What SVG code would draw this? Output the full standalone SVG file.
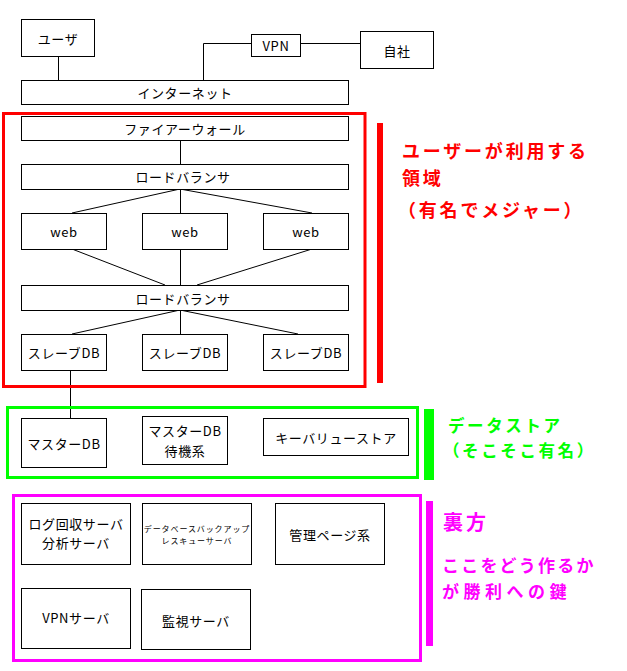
<svg xmlns="http://www.w3.org/2000/svg" width="627" height="671" viewBox="0 0 627 671">
<style>
.n{fill:#fff;stroke:#000;stroke-width:1}
.t{font-family:"Noto Sans CJK JP","Liberation Sans",sans-serif;font-size:13px;fill:#000;text-anchor:middle;dominant-baseline:central;letter-spacing:0.6px}
.s{font-size:8px;letter-spacing:0.9px}
.c line,.c polyline{stroke:#000;stroke-width:1;fill:none}
.lb{font-family:"Noto Sans CJK JP",sans-serif;font-weight:bold}
</style>
<rect width="627" height="671" fill="#fff"/>
<g class="c" id="connectors">
<line x1="58.5" y1="56" x2="58.5" y2="80"/>
<polyline points="203.5,80 203.5,43.5 251,43.5"/>
<line x1="300" y1="43.5" x2="360" y2="43.5"/>
<line x1="180.5" y1="140" x2="180.5" y2="164"/>
<line x1="180" y1="189" x2="72" y2="213"/>
<line x1="180.5" y1="189" x2="180.5" y2="213"/>
<line x1="180" y1="189" x2="312" y2="213"/>
<line x1="72" y1="249" x2="165" y2="285"/>
<line x1="180.5" y1="249" x2="180.5" y2="285"/>
<line x1="312" y1="249" x2="197" y2="285"/>
<line x1="180" y1="310" x2="72" y2="334"/>
<line x1="180.5" y1="310" x2="180.5" y2="334"/>
<line x1="180" y1="310" x2="298" y2="334"/>
<line x1="70.5" y1="370" x2="70.5" y2="418"/>
</g>
<g id="zone-user">
<rect x="3.5" y="113.5" width="361.5" height="273" fill="none" stroke="#f00" stroke-width="3"/>
<rect x="377" y="123" width="6" height="260" fill="#f00"/>
<text class="lb" x="402" y="158" font-size="18" letter-spacing="2.8" fill="#f00">ユーザーが利用する</text>
<text class="lb" x="402" y="184.5" font-size="18" letter-spacing="2.8" fill="#f00">領域</text>
<text class="lb" x="398" y="217" font-size="18" letter-spacing="2.8" fill="#f00">（有名でメジャー）</text>
</g>
<g id="zone-data">
<rect x="7.5" y="407.5" width="410" height="70" fill="none" stroke="#0f0" stroke-width="3"/>
<rect x="424" y="409" width="10" height="71" fill="#0f0"/>
<text class="lb" x="448" y="432" font-size="16.5" letter-spacing="2.6" fill="#0f0">データストア</text>
<text class="lb" x="443" y="457" font-size="16.5" letter-spacing="2.6" fill="#0f0">（そこそこ有名）</text>
</g>
<g id="zone-back">
<rect x="13.5" y="495.5" width="407" height="165" fill="none" stroke="#f0f" stroke-width="3"/>
<rect x="426" y="501" width="7" height="145" fill="#f0f"/>
<text class="lb" x="443" y="530" font-size="20" letter-spacing="3" fill="#f0f">裏方</text>
<text class="lb" x="442" y="572" font-size="17" letter-spacing="2.2" fill="#f0f">ここをどう作るか</text>
<text class="lb" x="442" y="598" font-size="17" letter-spacing="4.5" fill="#f0f">が勝利への鍵</text>
</g>
<g id="user"><rect class="n" x="21.5" y="19.5" width="73" height="37"/><text class="t" x="58" y="38">ユーザ</text></g>
<g id="vpn"><rect class="n" x="251.5" y="34.5" width="49" height="22"/><text class="t" x="276" y="45">VPN</text></g>
<g id="jisha"><rect class="n" x="360.5" y="31.5" width="73" height="37"/><text class="t" x="397" y="50">自社</text></g>
<g id="internet"><rect class="n" x="21.5" y="80.5" width="327" height="24"/><text class="t" x="185" y="92">インターネット</text></g>
<g id="firewall"><rect class="n" x="21.5" y="116.5" width="327" height="24"/><text class="t" x="185" y="128">ファイアーウォール</text></g>
<g id="lb1"><rect class="n" x="21.5" y="164.5" width="327" height="25"/><text class="t" x="183" y="176">ロードバランサ</text></g>
<g id="web1"><rect class="n" x="21.5" y="213.5" width="85" height="36"/><text class="t" x="64" y="231">web</text></g>
<g id="web2"><rect class="n" x="142.5" y="213.5" width="85" height="36"/><text class="t" x="185" y="231">web</text></g>
<g id="web3"><rect class="n" x="263.5" y="213.5" width="85" height="36"/><text class="t" x="306" y="231">web</text></g>
<g id="lb2"><rect class="n" x="21.5" y="285.5" width="327" height="25"/><text class="t" x="183" y="298">ロードバランサ</text></g>
<g id="slave1"><rect class="n" x="21.5" y="334.5" width="85" height="36"/><text class="t" x="64" y="352" letter-spacing="1.3">スレーブDB</text></g>
<g id="slave2"><rect class="n" x="142.5" y="334.5" width="85" height="36"/><text class="t" x="185" y="352" letter-spacing="1.3">スレーブDB</text></g>
<g id="slave3"><rect class="n" x="263.5" y="334.5" width="85" height="36"/><text class="t" x="306" y="352" letter-spacing="1.3">スレーブDB</text></g>
<g id="master"><rect class="n" x="21.5" y="418.5" width="85" height="49"/><text class="t" x="64" y="443" letter-spacing="1.3">マスターDB</text></g>
<g id="standby"><rect class="n" x="142.5" y="416.5" width="85" height="48"/><text class="t" x="185" y="430.5" letter-spacing="1.3">マスターDB</text><text class="t" x="185" y="450" letter-spacing="1.3">待機系</text></g>
<g id="kvs"><rect class="n" x="263.5" y="418.5" width="145" height="37"/><text class="t" x="336" y="437">キーバリューストア</text></g>
<g id="log"><rect class="n" x="21.5" y="503.5" width="109" height="61"/><text class="t" x="76" y="523.5" letter-spacing="1.6">ログ回収サーバ</text><text class="t" x="76" y="542.5" letter-spacing="1.6">分析サーバ</text></g>
<g id="backup"><rect class="n" x="142.5" y="503.5" width="109" height="61"/><text class="t s" x="197" y="528">データベースバックアップ</text><text class="t s" x="197" y="540">レスキューサーバ</text></g>
<g id="admin"><rect class="n" x="275.5" y="503.5" width="109" height="61"/><text class="t" x="330" y="534" letter-spacing="1.2">管理ページ系</text></g>
<g id="vpnserver"><rect class="n" x="21.5" y="588.5" width="109" height="60"/><text class="t" x="76" y="617" letter-spacing="1.2">VPNサーバ</text></g>
<g id="monitor"><rect class="n" x="141.5" y="589.5" width="109" height="60"/><text class="t" x="196" y="620" letter-spacing="1.2">監視サーバ</text></g>
</svg>
